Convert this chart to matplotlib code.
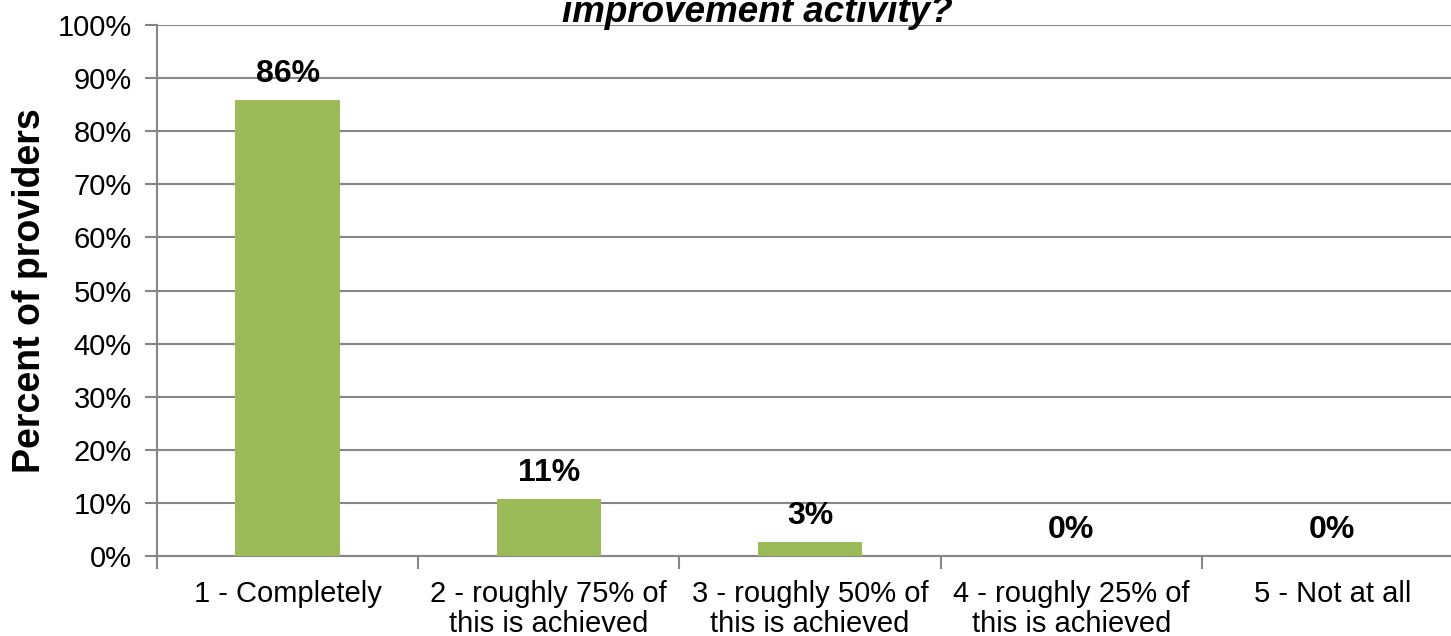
import matplotlib.pyplot as plt
import numpy as np

categories = ["1 - Completely", "2 - roughly 75% of\nthis is achieved",
              "3 - roughly 50% of\nthis is achieved", "4 - roughly 25% of\nthis is achieved",
              "5 - Not at all"]
values = [85.9, 10.7, 2.7, 0.0, 0.0]
labels = ["86%", "11%", "3%", "0%", "0%"]
yticks = np.arange(0, 101, 10)

plt.rcParams['font.family'] = ['Liberation Sans', 'DejaVu Sans']

fig = plt.figure(figsize=(14.51, 6.36), dpi=100)
ax = fig.add_axes([157 / 1451, 1 - 556 / 636, (1463 - 157) / 1451, 531 / 636])

x = np.arange(len(categories))
ax.bar(x, values, width=0.4, color="#9BBB59", zorder=3)
for xi, v, lab in zip(x, values, labels):
    ax.annotate(lab, (xi, v), xytext=(0, 8), textcoords="offset points",
                ha="center", va="bottom", fontsize=23, fontweight="bold")

ax.set_xlim(-0.5, len(categories) - 0.5)
ax.set_ylim(0, 100)
ax.set_yticks(yticks)
ax.set_yticklabels([f"{t}%" for t in yticks], fontsize=21)
ax.set_xticks(x)
ax.set_xticklabels(categories, fontsize=21, linespacing=1.1)
ax.set_xticks(np.arange(len(categories) + 1) - 0.5, minor=True)
ax.tick_params(axis="x", which="major", length=0, pad=17)
ax.tick_params(axis="x", which="minor", length=9, color="#868686", width=1.5)
ax.tick_params(axis="y", length=9, color="#868686", width=1.5, pad=9)

ax.grid(axis="y", color="#868686", linewidth=1.5, zorder=0)
for side in ["top", "right"]:
    ax.spines[side].set_visible(False)
for side in ["left", "bottom"]:
    ax.spines[side].set_color("#868686")
    ax.spines[side].set_linewidth(1.5)

ax.set_ylabel("Percent of providers", fontsize=27, fontweight="bold", labelpad=7)

fig.text(757 / 1451, 1 - 22 / 636, "improvement activity?", ha="center", va="baseline",
         fontsize=26.5, fontweight="bold", fontstyle="italic")

fig.savefig("out.png", dpi=100)
